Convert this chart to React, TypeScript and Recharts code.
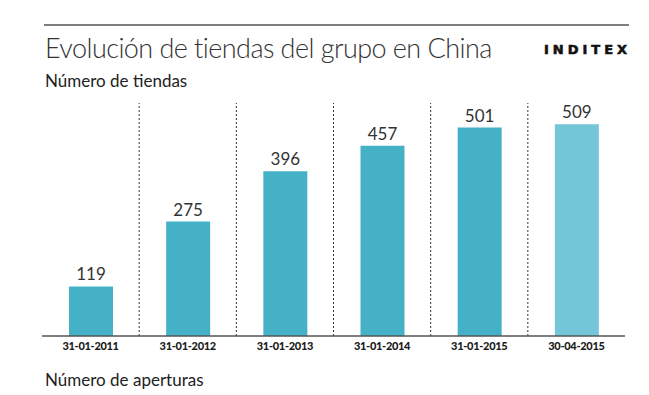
import React from 'react';
import { BarChart, Bar, XAxis, YAxis, Cell, LabelList, ReferenceLine } from 'recharts';

const categories = ['31-01-2011', '31-01-2012', '31-01-2013', '31-01-2014', '31-01-2015', '30-04-2015'];
const storeCounts = [119, 275, 396, 457, 501, 509];
const barColors = ['#44b1c7', '#44b1c7', '#44b1c7', '#44b1c7', '#44b1c7', '#72c6d8'];

const title = 'Evolución de tiendas del grupo en China';
const brand = 'INDITEX';
const subtitle = 'Número de tiendas';
const footer = 'Número de aperturas';

const data = categories.map((c, i) => ({ date: c, value: storeCounts[i] }));

const FONT = 'Lato, "Open Sans", sans-serif';

export default function App() {
  return (
    <div style={{ position: 'absolute', left: 0, top: 0, width: 649, height: 395, background: '#fff', overflow: 'hidden' }}>
      <div style={{ position: 'absolute', left: 0, top: 0 }}>
        <BarChart
          width={649}
          height={395}
          data={data}
          margin={{ top: 103, right: 24, bottom: 29, left: 42 }}
        >
          <XAxis
            dataKey="date"
            height={30}
            tickLine={false}
            tickSize={6}
            tickMargin={0}
            axisLine={{ stroke: '#555', strokeWidth: 1.5 }}
            tick={{ fill: '#1a1a1a', fontSize: 11, fontWeight: 900, fontFamily: FONT, letterSpacing: -0.3 }}
            interval={0}
          />
          <YAxis hide width={0} domain={[0, 560]} />
          {categories.slice(1).map((c) => (
            <ReferenceLine
              key={c}
              x={c}
              position="start"
              stroke="#333"
              strokeWidth={1}
              strokeDasharray="2 2"
            />
          ))}
          <Bar dataKey="value" barSize={44} isAnimationActive={false}>
            {data.map((d, i) => (
              <Cell key={d.date} fill={barColors[i]} />
            ))}
            <LabelList
              dataKey="value"
              position="top"
              offset={6}
              fill="#333"
              fontSize={17}
              fontFamily={FONT}
            />
          </Bar>
        </BarChart>
      </div>
      <svg width={649} height={395} style={{ position: 'absolute', left: 0, top: 0, pointerEvents: 'none' }}>
        <line x1={44} x2={629} y1={25} y2={25} stroke="#555" strokeWidth={1.5} />
        <text x={45} y={58} fontSize={27} fontWeight={300} fill="#333" fontFamily={FONT} letterSpacing={-0.55}>{title}</text>
        <text x={544} y={54} fontSize={13} fontWeight={700} fill="#111" stroke="#111" strokeWidth={0.6} fontFamily='"DejaVu Sans", sans-serif' letterSpacing={4}>{brand}</text>
        <text x={45} y={87} fontSize={17} fill="#222" fontFamily={FONT}>{subtitle}</text>
        <text x={45} y={386} fontSize={17} fill="#222" fontFamily={FONT}>{footer}</text>
      </svg>
    </div>
  );
}
